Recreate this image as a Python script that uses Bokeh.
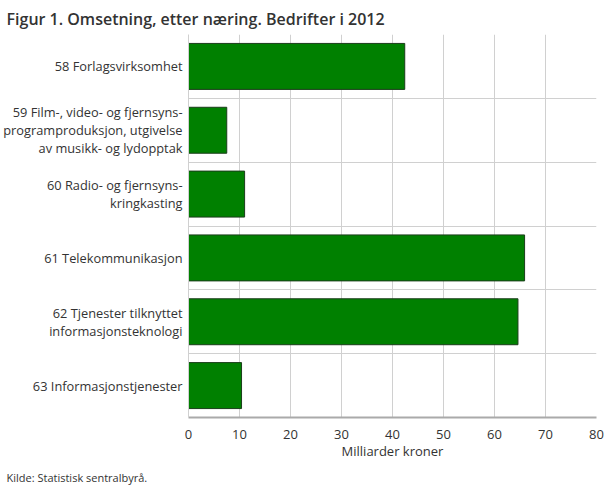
from bokeh.plotting import figure
from bokeh.models import Range1d, FixedTicker, Title, ColumnDataSource
from bokeh.embed import file_html
from bokeh.resources import INLINE

categories = [
    "58 Forlagsvirksomhet",
    "59 Film-, video- og fjernsyns-\nprogramproduksjon, utgivelse\nav musikk- og lydopptak",
    "60 Radio- og fjernsyns-\nkringkasting",
    "61 Telekommunikasjon",
    "62 Tjenester tilknyttet\ninformasjonsteknologi",
    "63 Informasjonstjenester",
]
values = [42.4, 7.5, 11.0, 65.9, 64.6, 10.4]
x_ticks = [0, 10, 20, 30, 40, 50, 60, 70, 80]

title_text = "Figur 1. Omsetning, etter næring. Bedrifter i 2012"
x_label = "Milliarder kroner"
source_text = "Kilde: Statistisk sentralbyrå."

FONT = "Open Sans"
LEFT = 182

n = len(categories)
rows = [n - 0.5 - i for i in range(n)]  # first category on top
src = ColumnDataSource(dict(row=rows, val=values, cat=categories))

p = figure(
    y_range=Range1d(0, n),
    x_range=Range1d(0, 80),
    frame_width=408, frame_height=383,
    min_border_left=LEFT, min_border_right=10, min_border_top=26, min_border_bottom=4,
    output_backend="svg", toolbar_location=None,
)

p.hbar(y="row", right="val", left=0, height=0.72, source=src,
       fill_color="#008000", line_color="#1a3d1a", line_width=1)

# title
p.title.text = title_text
p.title.text_font = "Open Sans SemiBold, Open Sans"
p.title.text_font_size = "16px"
p.title.text_font_style = "normal"
p.title.text_color = "#333333"
p.title.align = "left"
p.title.offset = -LEFT
p.title.standoff = 10

# footer
foot = Title(text=source_text, text_font=FONT, text_font_size="11px",
             text_font_style="normal", text_color="#333333", align="left",
             offset=-LEFT)
p.add_layout(foot, "below")

# x axis
p.xaxis.ticker = FixedTicker(ticks=x_ticks)
p.xaxis.axis_label = x_label
p.xaxis.axis_label_text_font = FONT
p.xaxis.axis_label_text_font_size = "13px"
p.xaxis.axis_label_text_font_style = "normal"
p.xaxis.axis_label_text_color = "#333333"
p.xaxis.axis_label_standoff = 0
p.xaxis.major_label_text_font = FONT
p.xaxis.major_label_text_font_size = "13px"
p.xaxis.major_label_text_color = "#333333"
p.xaxis.major_label_standoff = 6
p.xaxis.major_tick_line_color = None
p.xaxis.minor_tick_line_color = None
p.xaxis.axis_line_color = "#aaaaaa"
p.xaxis.axis_line_width = 2

# y axis (category labels at row centres)
p.yaxis.ticker = FixedTicker(ticks=rows)
p.yaxis.major_label_overrides = {r: c for r, c in zip(rows, categories)}
p.yaxis.major_label_text_font = FONT
p.yaxis.major_label_text_font_size = "12.8px"
p.yaxis.major_label_text_line_height = 1.0
p.yaxis.major_label_text_color = "#333333"
p.yaxis.major_label_standoff = 0
p.yaxis.major_tick_line_color = None
p.yaxis.minor_tick_line_color = None
p.yaxis.axis_line_color = "#d0d0d0"

# grids
p.xgrid.grid_line_color = "#d0d0d0"
p.xgrid.grid_line_width = 1
p.ygrid.ticker = FixedTicker(ticks=list(range(n + 1)))
p.ygrid.grid_line_color = "#d0d0d0"
p.ygrid.grid_line_width = 1

p.outline_line_color = None
p.background_fill_color = "white"
p.border_fill_color = "white"

open("out.html", "w").write(file_html(p, INLINE))
